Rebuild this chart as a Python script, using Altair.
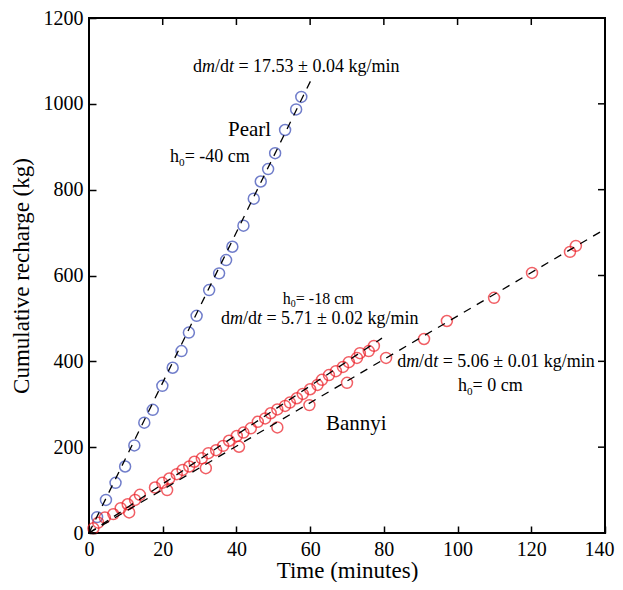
import altair as alt
import pandas as pd

# ---------------- data ----------------
pearl_t = [2.2, 4.6, 7.2, 9.8, 12.3, 15.0, 17.3, 19.9, 22.7, 25.1, 27.1, 29.2,
           32.6, 35.3, 37.2, 38.9, 41.9, 44.7, 46.6, 48.6, 50.5, 53.2, 56.2, 57.6]
pearl_m = [37, 77, 117, 155, 204, 257, 287, 343, 385, 424, 467, 506,
           566, 605, 636, 667, 716, 779, 819, 848, 885, 939, 987, 1016]

bannyi18_t = [2.5, 4.3, 6.6, 8.6, 10.5, 12.5, 13.8, 17.9, 19.9, 21.8, 23.8, 25.4,
              27.2, 28.6, 30.6, 32.4, 34.5, 36.4, 38.0, 40.1, 41.9, 43.9, 45.8,
              47.8, 49.3, 51.1, 53.2, 54.5, 56.4, 58.0, 60.0, 62.0, 63.2, 65.1,
              67.0, 68.9, 70.5, 72.7, 73.5, 75.9, 77.3]
bannyi18_m = [24, 36, 44, 58, 67, 77, 89, 106, 117, 127, 137, 147,
              155, 166, 174, 186, 193, 203, 215, 226, 234, 244, 259,
              267, 279, 288, 296, 304, 314, 324, 335, 345, 357, 368,
              377, 387, 398, 408, 419, 424, 436]

bannyi0_t = [1.2, 10.9, 21.2, 31.7, 40.7, 51.1, 59.8, 70.0, 80.6, 90.9, 97.1,
             109.9, 120.2, 130.5, 132.1]
bannyi0_m = [11, 48, 100, 151, 201, 246, 298, 350, 408, 452, 494,
             548, 606, 655, 669]

fit_series = ["Pearl", "Pearl", "B18", "B18", "B0", "B0"]
fit_t = [0, 60.5, 0, 79.5, 0, 140]
fit_m = [0, 1060, 0, 454, 0, 708]

x_ticks = [0, 20, 40, 60, 80, 100, 120, 140]
y_ticks = [0, 200, 400, 600, 800, 1000, 1200]

# annotation texts, left-anchored: (x, y, size, segments)  segments: (text, kind) n/i/s
annotations = [
    (28.2, 1086, 18, [("d", "n"), ("m", "i"), ("/d", "n"), ("t", "i"), (" = 17.53 \u00b1 0.04 kg/min", "n")]),
    (37.7, 939, 21, [("Pearl", "n")]),
    (22.0, 876, 18, [("h", "n"), ("0", "s"), ("= -40 cm", "n")]),
    (52.6, 545, 16, [("h", "n"), ("0", "s"), ("= -18 cm", "n")]),
    (35.8, 498, 18, [("d", "n"), ("m", "i"), ("/d", "n"), ("t", "i"), (" = 5.71 \u00b1 0.02 kg/min", "n")]),
    (83.6, 398, 18, [("d", "n"), ("m", "i"), ("/d", "n"), ("t", "i"), (" = 5.06 \u00b1 0.01 kg/min", "n")]),
    (100.1, 343, 18, [("h", "n"), ("0", "s"), ("= 0 cm", "n")]),
    (64.3, 254, 21, [("Bannyi", "n")]),
]

# ---------------- build ----------------
FONT = "Liberation Serif"
BLUE = "#3447b5"
RED = "#ec1c24"

pts = pd.concat([
    pd.DataFrame({"t": pearl_t, "m": pearl_m, "s": "Pearl"}),
    pd.DataFrame({"t": bannyi18_t, "m": bannyi18_m, "s": "B18"}),
    pd.DataFrame({"t": bannyi0_t, "m": bannyi0_m, "s": "B0"}),
])
fits = pd.DataFrame({"t": fit_t, "m": fit_m, "s": fit_series})

xs = alt.Scale(domain=[0, 140], nice=False, zero=False)
ys = alt.Scale(domain=[0, 1200], nice=False, zero=False)

TICK = 7
ax_common = dict(tickSize=TICK, offset=-TICK, domain=False, grid=False,
                 tickColor="black", tickWidth=1.5, labelColor="black",
                 labelFont=FONT, labelFontSize=20, titleFont=FONT,
                 titleFontSize=23, titleFontWeight="normal", titleColor="black",
                 format="d", zindex=1, labelFlush=False)

x_axis = alt.Axis(orient="bottom", values=x_ticks, labelPadding=6,
                  title="Time (minutes)", titlePadding=0,
                  labelOffset=alt.ExprRef("datum.value == 140 ? -6 : 0"), **ax_common)
y_axis = alt.Axis(orient="left", values=y_ticks, labelPadding=6,
                  title="Cumulative recharge (kg)", titlePadding=10, **ax_common)

X = lambda f: alt.X(f, scale=xs, axis=x_axis)
Y = lambda f: alt.Y(f, scale=ys, axis=y_axis)

points = alt.Chart(pts).mark_point(shape="circle", filled=False, size=120, strokeWidth=1.5).encode(
    x=X("t:Q"),
    y=Y("m:Q"),
    color=alt.Color("s:N", scale=alt.Scale(domain=["Pearl", "B18", "B0"], range=[BLUE, RED, RED]), legend=None),
)

lines = alt.Chart(fits).mark_line(color="black", strokeDash=[8, 7], strokeWidth=1.3).encode(
    x=X("t:Q"),
    y=Y("m:Q"),
    detail="s:N",
)

W = {' ': 0.25, 'd': 0.5, '/': 0.278, 't': 0.278, '=': 0.564, '.': 0.25, '\u00b1': 0.564,
     'k': 0.5, 'g': 0.5, 'm': 0.778, 'i': 0.278, 'n': 0.5, 'h': 0.5, '-': 0.333, 'c': 0.444,
     'B': 0.667, 'a': 0.444, 'y': 0.5, 'P': 0.556, 'e': 0.444, 'r': 0.333, 'l': 0.278}
WI = {'m': 0.722, 't': 0.278}


def seg_width(txt, kind, size):
    if kind == "s":
        return sum(W.get(c, 0.5) for c in txt) * size * 0.62
    if kind == "i":
        return sum(WI.get(c, W.get(c, 0.5)) for c in txt) * size
    return sum(W.get(c, 0.5) for c in txt) * size


text_layers = []
for (ax, ay, size, segs) in annotations:
    cur = 0.0
    for txt, kind in segs:
        w = seg_width(txt, kind, size)
        stripped = txt.lstrip(" ")
        lead = (len(txt) - len(stripped)) * W[' '] * size
        stripped = stripped.rstrip(" ")
        fs = size * 0.62 if kind == "s" else size
        dy = size * 0.32 if kind == "s" else 0
        style = "italic" if kind == "i" else "normal"
        df = pd.DataFrame({"x": [ax], "y": [ay], "txt": [stripped]})
        text_layers.append(
            alt.Chart(df).mark_text(align="left", baseline="middle", dx=cur + lead, dy=dy,
                                    font=FONT, fontSize=fs, fontStyle=style, color="black").encode(
                x=X("x:Q"),
                y=Y("y:Q"),
                text="txt:N",
            )
        )
        cur += w

# inward ticks on the top and right frame edges
top_ticks = alt.Chart(pd.DataFrame({"v": x_ticks})).mark_rule(color="black", strokeWidth=1.5).encode(
    x=X("v:Q"), y=alt.value(0), y2=alt.value(TICK),
)
right_ticks = alt.Chart(pd.DataFrame({"v": y_ticks})).mark_rule(color="black", strokeWidth=1.5).encode(
    y=Y("v:Q"), x=alt.value(516 - TICK), x2=alt.value(516),
)

chart = alt.layer(points, lines, top_ticks, right_ticks, *text_layers).properties(
    width=516, height=515,
    autosize=alt.AutoSizeParams(type="none"),
    padding={"left": 81, "top": 10, "right": 10, "bottom": 49},
    background="white",
).configure_view(stroke="black", strokeWidth=2)

chart.save("out.html", embed_options={"renderer": "svg", "actions": False})
